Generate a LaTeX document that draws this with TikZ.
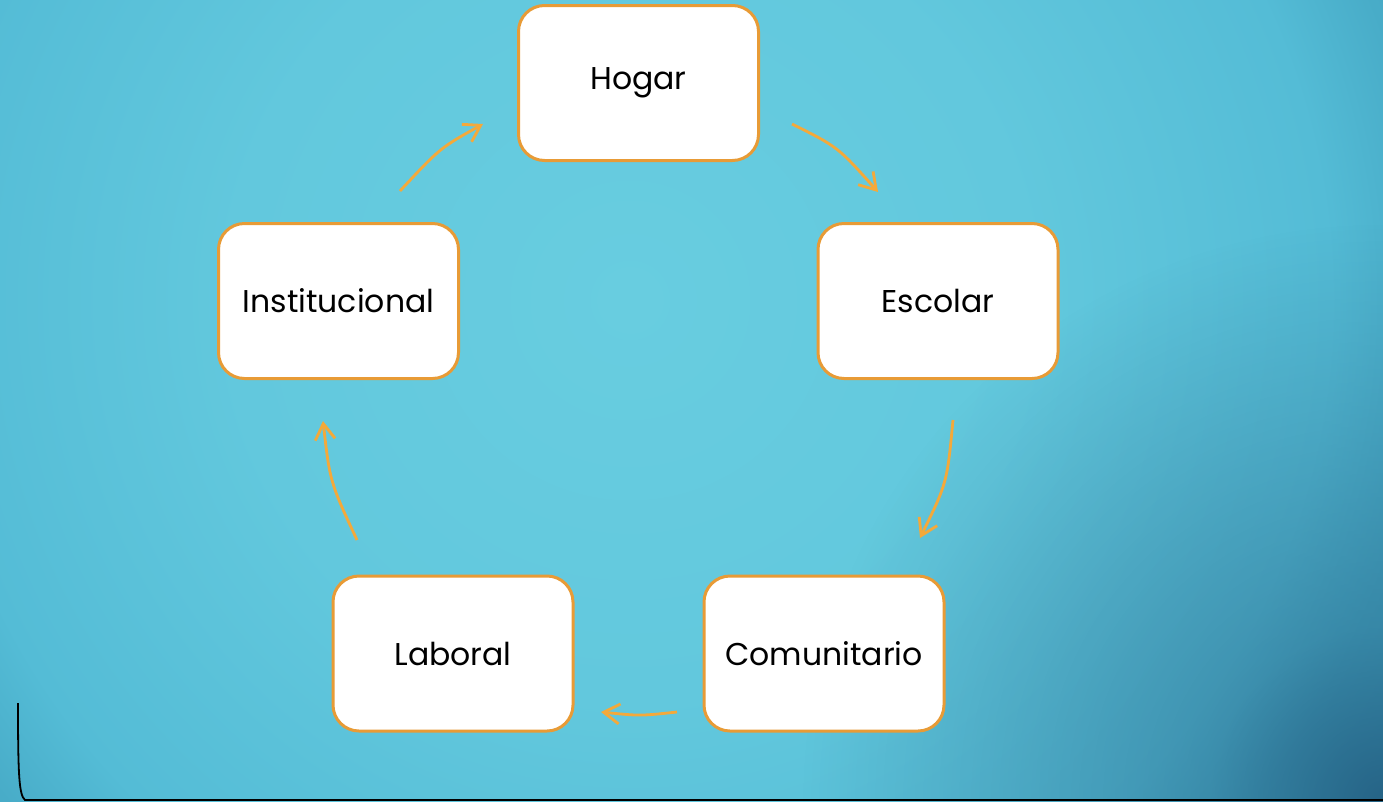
\documentclass[tikz,border=0pt]{standalone}
\usepackage{fontspec}
\setmainfont{Poppins}
\usetikzlibrary{arrows.meta,fadings}
\definecolor{bgA}{HTML}{68CDE0}
\definecolor{bgB}{HTML}{62C8DD}
\definecolor{bgC}{HTML}{54BCD6}
\definecolor{bgD}{HTML}{48ACC8}
\definecolor{bgE}{HTML}{42A3C0}
\definecolor{darkc}{HTML}{1F5478}
\definecolor{boxline}{HTML}{E89B36}
\definecolor{arr}{HTML}{F4A93A}
\pgfdeclareradialshading{bgshade}{\pgfpoint{0bp}{0bp}}{color(0bp)=(bgA); color(10bp)=(bgB); color(17.5bp)=(bgC); color(20bp)=(bgD); color(22.5bp)=(bgE); color(25bp)=(bgE); color(50bp)=(bgE)}
\pgfdeclareradialshading{cornermask}{\pgfpoint{0bp}{0bp}}{color(0bp)=(white!80!black); color(7.5bp)=(white!40!black); color(25bp)=(black); color(50bp)=(black)}
\pgfdeclarefading{cornerfade}{\pgfuseshading{cornermask}}
\tikzset{
  boxnode/.style={draw=boxline, line width=3pt, fill=white, rounded corners=26pt,
    minimum width=240pt, minimum height=155pt, inner sep=0pt, font=\fontsize{31.5}{36}\selectfont},
  flow/.style={draw=arr, line width=2.8pt, -{Straight Barb[length=16pt,width=20pt,line width=2.8pt]}},
  edge/.style={draw=black, line width=1.8pt}
}
\begin{document}
\begin{tikzpicture}[x=1pt,y=-1pt]
\useasboundingbox (0,0) rectangle (1383,801);
\begin{scope}
\clip (0,0) rectangle (1383,801);
\shade[shading=bgshade] (630,300) circle (1000);
\fill[darkc, path fading=cornerfade] (1383,801) circle (580);
\end{scope}
% nodes
\node[boxnode] (hogar) at (638.5,83) {Hogar};
\node[boxnode] (escolar) at (938,301) {Escolar};
\node[boxnode] (inst) at (338.5,301) {Institucional};
\node[boxnode] (laboral) at (453,653.5) {Laboral};
\node[boxnode] (comun) at (824,653.5) {Comunitario};
% arrow endpoints
\coordinate (a1s) at (792,124); \coordinate (a1e) at (878,192);
\coordinate (a2s) at (953,420); \coordinate (a2e) at (920,538);
\coordinate (a3s) at (677,712); \coordinate (a3e) at (601,712);
\coordinate (a4s) at (357,540); \coordinate (a4e) at (323,421);
\coordinate (a5s) at (400,191); \coordinate (a5e) at (483,124);
\draw[flow] (a1s) .. controls (838,147) .. (a1e);
\draw[flow] (a2s) .. controls (947,483) .. (a2e);
\draw[flow] (a3s) .. controls (640,716) .. (a3e);
\draw[flow] (a4s) .. controls (330,482) .. (a4e);
\draw[flow] (a5s) .. controls (440,148) .. (a5e);
% corner line
\coordinate (l1) at (18,703);
\coordinate (l2) at (25,800);
\coordinate (l3) at (1383,800);
\draw[edge] (l1) .. controls (18,775) and (19,795) .. (l2) -- (l3);
\end{tikzpicture}
\end{document}
